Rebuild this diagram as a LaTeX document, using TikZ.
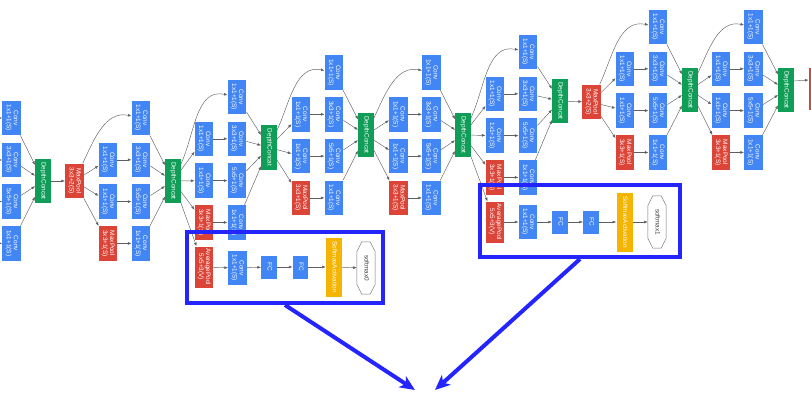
\documentclass[tikz,border=0pt]{standalone}
\usepackage{fontspec}
\usepackage{graphicx}
\setmainfont{Liberation Sans}
\usetikzlibrary{arrows.meta}

\definecolor{gblue}{RGB}{66,133,244}
\definecolor{gred}{RGB}{219,68,55}
\definecolor{ggreen}{RGB}{15,157,88}
\definecolor{gyellow}{RGB}{244,180,0}
\definecolor{hlblue}{RGB}{36,36,255}
\definecolor{edgegray}{RGB}{95,95,95}

% text of a layer, turned to read from top to bottom
\newcommand\turned[1]{\rotatebox[origin=c]{-90}{\begin{tabular}{@{}c@{}}#1\end{tabular}}}

\tikzset{
  x=1pt, y=1pt,
  layerbox/.style={rectangle, inner sep=0pt, text=white,
    font=\fontsize{6.4}{6.9}\selectfont},
  conv/.style={layerbox, fill=gblue, minimum width=18.5pt, minimum height=34.5pt},
  pool/.style={layerbox, fill=gred, minimum width=18.5pt, minimum height=34.5pt},
  avgpool/.style={layerbox, fill=gred, minimum width=18.5pt, minimum height=41pt},
  concat/.style={layerbox, fill=ggreen, minimum width=15.5pt, minimum height=44.5pt},
  fc/.style={layerbox, fill=gblue, minimum width=15.5pt, minimum height=23pt},
  act/.style={layerbox, fill=gyellow, minimum width=16pt, minimum height=59pt},
  smax/.style={rectangle, inner sep=0pt, text=black!75,
    font=\fontsize{6.4}{6.9}\selectfont, minimum width=18pt, minimum height=52pt},
  octline/.style={draw=black!55, line width=0.5pt},
  conn/.style={draw=edgegray, line width=0.45pt, -{Latex[length=3.6pt,width=2.8pt]}},
  hlbox/.style={rectangle, draw=hlblue, line width=4pt, inner sep=0pt},
  bigarrow/.style={draw=hlblue, line width=4pt,
    -{Stealth[length=15pt,width=13pt,inset=4pt]}},
}

% one inception module: #1 name, #2 input node, #3/#4 x of the two columns,
% #5 x of the concat node, #6 y of the first row, #7 y of the concat node
\newcommand\inceptionblock[7]{%
  \node[conv] (#1b1) at (#4,-#6) {\turned{Conv\\1x1+1(S)}};
  \node[conv] (#1a2) at (#3,-#6-41.8) {\turned{Conv\\1x1+1(S)}};
  \node[conv] (#1b2) at (#4,-#6-41.8) {\turned{Conv\\3x3+1(S)}};
  \node[conv] (#1a3) at (#3,-#6-83.6) {\turned{Conv\\1x1+1(S)}};
  \node[conv] (#1b3) at (#4,-#6-83.6) {\turned{Conv\\5x5+1(S)}};
  \node[pool] (#1a4) at (#3,-#6-125.4) {\turned{MaxPool\\3x3+1(S)}};
  \node[conv] (#1b4) at (#4,-#6-125.4) {\turned{Conv\\1x1+1(S)}};
  \node[concat] (#1dc) at (#5,-#7) {\turned{DepthConcat}};
  \draw[conn] (#2) to[out=65,in=168] (#1b1);
  \foreach \k in {2,3,4} {
    \draw[conn] (#2) -- (#1a\k);
    \draw[conn] (#1a\k) -- (#1b\k);
  }
  \foreach \k in {1,...,4} {\draw[conn] (#1b\k) -- (#1dc);}
}

\begin{document}
\begin{tikzpicture}
\useasboundingbox (0,0) rectangle (811,-405);
\clip (0,0) rectangle (811,-405);

% tail of the preceding module
\node[conv] (pb1) at (11.7,-118) {\turned{Conv\\1x1+1(S)}};
\node[conv] (pb2) at (11.7,-160) {\turned{Conv\\3x3+1(S)}};
\node[conv] (pb3) at (11.7,-201.5) {\turned{Conv\\5x5+1(S)}};
\node[conv] (pb4) at (11.7,-243.3) {\turned{Conv\\1x1+1(S)}};
\node[concat] (pdc) at (43,-181) {\turned{DepthConcat}};
\foreach \k/\yy in {1/118,2/160,3/201.5,4/243.3} {
  \coordinate (pin\k) at (-8,-\yy);
  \draw[conn] (pin\k) -- (pb\k);
  \draw[conn] (pb\k) -- (pdc);
}

\node[pool] (mp1) at (74.5,-181) {\turned{MaxPool\\3x3+2(S)}};
\draw[conn] (pdc) -- (mp1);

\inceptionblock{ma}{mp1}{108}{141}{173}{118}{181}
\inceptionblock{mb}{madc}{204}{237}{269}{97}{147.5}
\inceptionblock{mc}{mbdc}{301}{334}{366}{72.5}{135}
\inceptionblock{md}{mcdc}{398.5}{431.5}{463}{72.5}{135}
\inceptionblock{me}{mddc}{495}{528}{560}{52}{101}

\node[pool] (mp2) at (591.5,-102) {\turned{MaxPool\\3x3+2(S)}};
\draw[conn] (medc) -- (mp2);

\inceptionblock{mf}{mp2}{625}{658}{690}{27}{90}
\inceptionblock{mg}{mfdc}{721}{753.5}{786}{27}{90}

\node[pool, minimum height=42pt] (lastpool) at (818,-89) {};
\draw[conn] ([yshift=9pt]mgdc.east) -- ([yshift=9pt]lastpool.west);

% auxiliary classifier 0
\node[avgpool] (xaavg) at (204,-267) {\turned{AveragePool\\5x5+3(V)}};
\node[conv] (xaconv) at (237.5,-268) {\turned{Conv\\1x1+1(S)}};
\node[fc] (xafca) at (269,-267) {\turned{FC}};
\node[fc] (xafcb) at (300.5,-267) {\turned{FC}};
\node[act] (xaact) at (334,-267) {\turned{SoftmaxActivation}};
\node[smax] (xaout) at (366,-268) {\turned{softmax0}};
\draw[conn] (madc) -- (xaavg);
\draw[conn] (xaavg) -- (xaconv);
\draw[conn] (xaconv) -- (xafca);
\draw[conn] (xafca) -- (xafcb);
\draw[conn] (xafcb) -- (xaact);
\draw[conn] (xaact) -- (xaout);

% auxiliary classifier 1
\node[avgpool] (xbavg) at (495,-222) {\turned{AveragePool\\5x5+3(V)}};
\node[conv] (xbconv) at (528,-222) {\turned{Conv\\1x1+1(S)}};
\node[fc] (xbfca) at (560,-222) {\turned{FC}};
\node[fc] (xbfcb) at (591,-222) {\turned{FC}};
\node[act] (xbact) at (624.5,-222) {\turned{SoftmaxActivation}};
\node[smax] (xbout) at (657,-222) {\turned{softmax1}};
\draw[conn] (mddc) -- (xbavg);
\draw[conn] (xbavg) -- (xbconv);
\draw[conn] (xbconv) -- (xbfca);
\draw[conn] (xbfca) -- (xbfcb);
\draw[conn] (xbfcb) -- (xbact);
\draw[conn] (xbact) -- (xbout);

% octagonal outlines of the two outputs
\foreach \o in {xaout,xbout} {
  \draw[octline] ([xshift=5pt]\o.north west) -- ([xshift=-5pt]\o.north east)
    -- ([yshift=-10pt]\o.north east) -- ([yshift=10pt]\o.south east)
    -- ([xshift=-5pt]\o.south east) -- ([xshift=5pt]\o.south west)
    -- ([yshift=10pt]\o.south west) -- ([yshift=-10pt]\o.north west) -- cycle;
}

% highlight frames and the arrows leaving them
\node[hlbox, minimum width=196pt, minimum height=71pt] (auxframea) at (285,-267.5) {};
\node[hlbox, minimum width=200.5pt, minimum height=72pt] (auxframeb) at (580,-221) {};
\coordinate (goala) at (415,-390);
\coordinate (goalb) at (435,-390);
\draw[bigarrow] (auxframea.south) -- (goala);
\draw[bigarrow] (auxframeb.south) -- (goalb);
\end{tikzpicture}
\end{document}
